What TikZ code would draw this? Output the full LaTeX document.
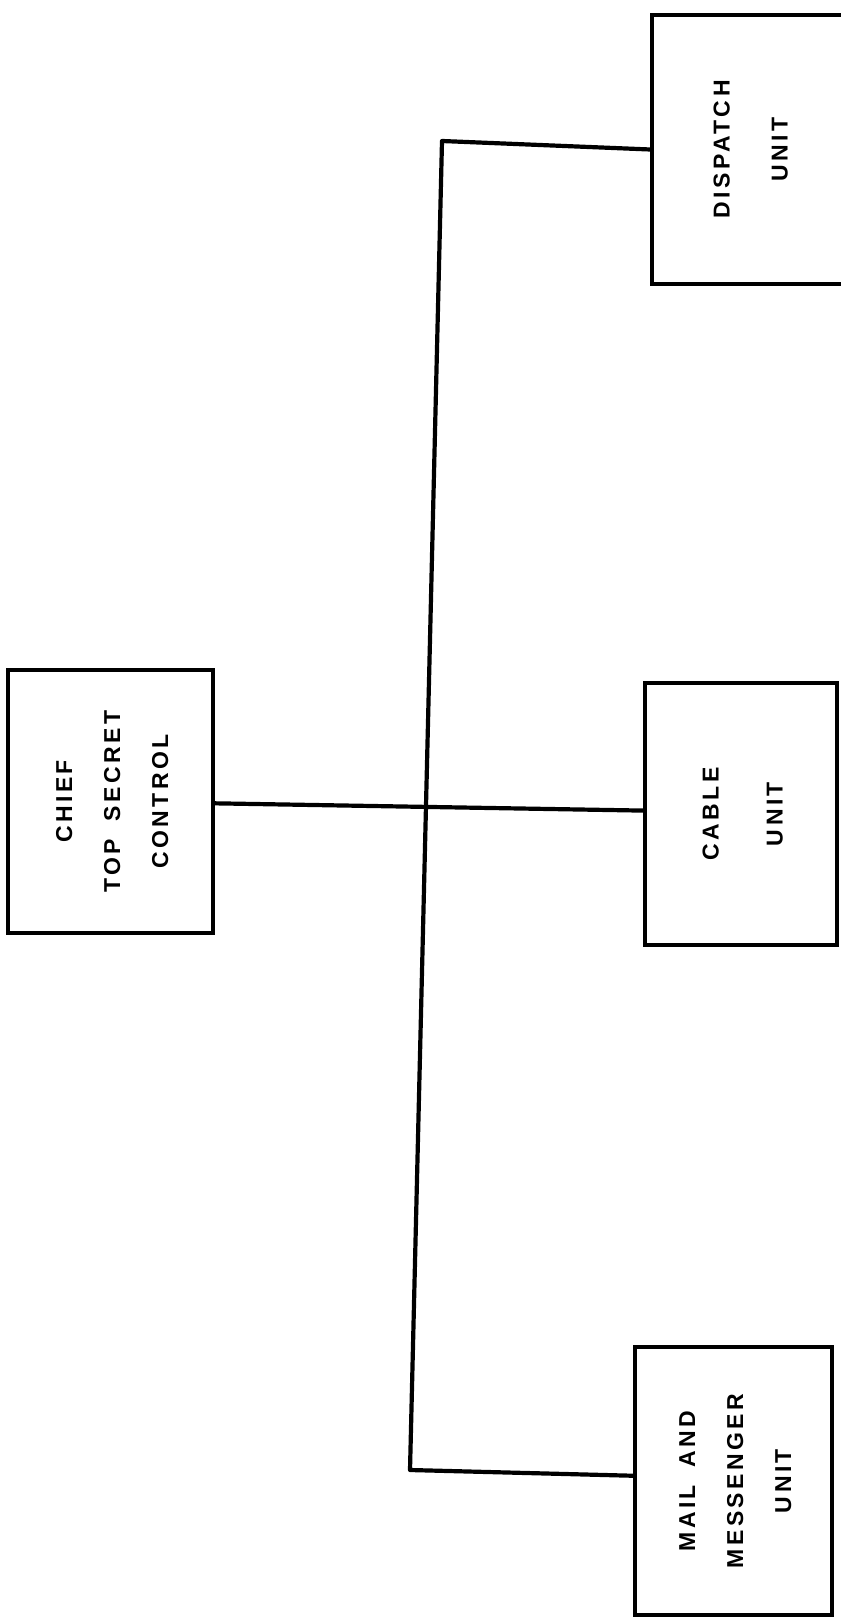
\documentclass[tikz,border=0pt]{standalone}
\usepackage{fontspec}
\setmainfont{Liberation Sans}[LetterSpace=15, WordSpace=1.8]
\usepackage{graphicx}

\begin{document}
\begin{tikzpicture}[x=1pt, y=-1pt,
    unitbox/.style={draw, line width=3.6pt, inner sep=0pt, font=\fontsize{23}{48}\selectfont\bfseries},
    link/.style={line width=4.2pt, line join=round}]
    % --- page frame ---
    \useasboundingbox (0,0) rectangle (840,1621);

    % --- 1. boxes (text turned to read upward) ---
    \node[unitbox, minimum width=205pt, minimum height=263pt] (chief) at (110.5,801.5)
        {\rotatebox{90}{\begin{tabular}{@{}c@{}}CHIEF\\TOP SECRET\\CONTROL\end{tabular}}};
    \node[unitbox, minimum width=194pt, minimum height=269pt] (disp) at (749,149.5)
        {\rotatebox{90}{\begin{tabular}{@{}c@{}}DISPATCH\\[10pt]UNIT\end{tabular}}};
    \node[unitbox, minimum width=192pt, minimum height=262pt] (cable) at (741,814)
        {\rotatebox{90}{\begin{tabular}{@{}c@{}}CABLE\\[16pt]UNIT\end{tabular}}};
    \node[unitbox, minimum width=197pt, minimum height=268pt] (mail) at (733.5,1481)
        {\rotatebox{90}{\begin{tabular}{@{}c@{}}MAIL AND\\MESSENGER\\UNIT\end{tabular}}};

    % --- 2. connectors ---
    % trunk ends
    \coordinate (ttop) at (442,141);
    \coordinate (tbot) at (410,1470);

    \draw[link] (disp.west) -- (ttop) -- (tbot) -- (mail.177);
    \draw[link] (chief.-1) -- (cable.178);

\end{tikzpicture}
\end{document}
